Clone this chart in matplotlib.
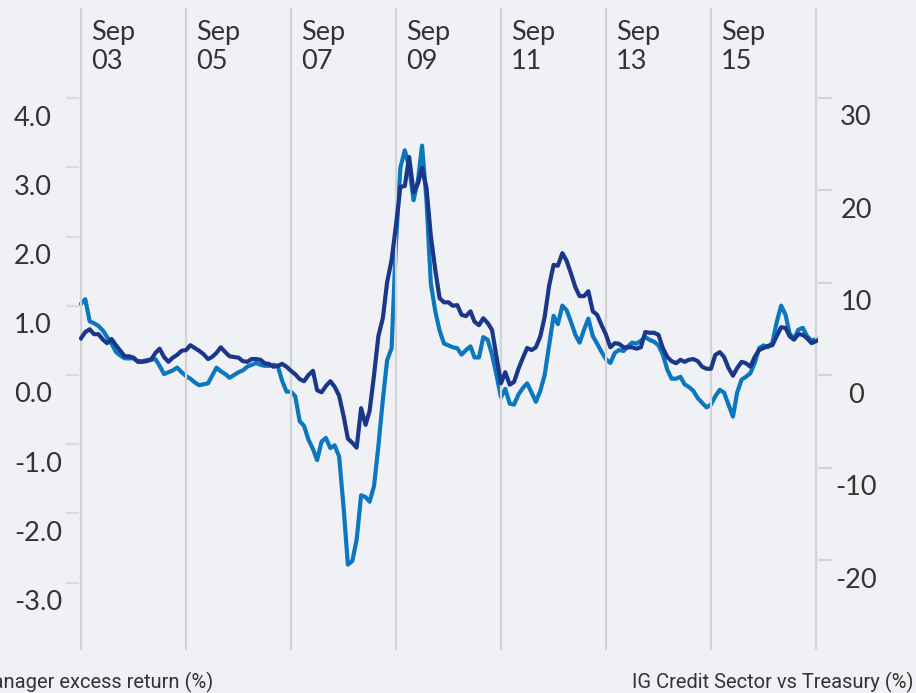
import matplotlib
matplotlib.use("Agg")
import matplotlib.pyplot as plt
import matplotlib.transforms as mtransforms
import pandas as pd

# Monthly series, Sep 2003 - Sep 2017
excess_return = [
    0.53, 0.62, 0.66, 0.59, 0.59, 0.51, 0.46, 0.52, 0.43, 0.35, 0.27, 0.27,
    0.25, 0.19, 0.19, 0.20, 0.22, 0.32, 0.38, 0.26, 0.19, 0.25, 0.29, 0.35,
    0.36, 0.43, 0.39, 0.35, 0.30, 0.23, 0.26, 0.32, 0.40, 0.33, 0.27, 0.26,
    0.25, 0.20, 0.19, 0.23, 0.23, 0.22, 0.17, 0.16, 0.12, 0.13, 0.16, 0.12,
    0.06, 0.01, -0.06, -0.09, 0.00, 0.06, -0.22, -0.25, -0.16, -0.09, -0.17, -0.30,
    -0.59, -0.92, -0.98, -1.05, -0.48, -0.72, -0.52, 0.00, 0.56, 0.82, 1.34, 1.66,
    2.17, 2.72, 2.73, 3.15, 2.64, 2.77, 2.99, 2.70, 2.01, 1.52, 1.11, 1.05,
    1.05, 1.00, 1.01, 0.87, 0.85, 0.92, 0.77, 0.72, 0.82, 0.75, 0.65, 0.26,
    -0.12, 0.04, -0.14, -0.10, 0.09, 0.25, 0.39, 0.36, 0.40, 0.56, 0.84, 1.29,
    1.59, 1.58, 1.76, 1.65, 1.46, 1.26, 1.14, 1.14, 1.21, 0.92, 0.87, 0.72,
    0.58, 0.40, 0.46, 0.45, 0.40, 0.40, 0.40, 0.38, 0.40, 0.62, 0.61, 0.61,
    0.58, 0.39, 0.26, 0.20, 0.17, 0.22, 0.19, 0.22, 0.23, 0.20, 0.12, 0.09,
    0.09, 0.29, 0.33, 0.26, 0.10, -0.01, 0.10, 0.19, 0.17, 0.12, 0.26, 0.36,
    0.39, 0.42, 0.43, 0.56, 0.69, 0.68, 0.56, 0.51, 0.59, 0.58, 0.53, 0.46,
    0.49,
]

ig_credit = [
    7.7, 8.2, 5.8, 5.6, 5.3, 4.8, 4.1, 3.4, 2.5, 2.1, 1.8, 1.8,
    1.8, 1.5, 1.5, 1.6, 1.7, 1.7, 1.0, 0.1, 0.3, 0.5, 0.8, 0.3,
    -0.1, -0.4, -0.8, -1.1, -1.0, -0.9, -0.1, 0.8, 0.4, 0.1, -0.3, 0.0,
    0.3, 0.5, 0.9, 1.1, 1.3, 1.1, 1.0, 1.0, 1.1, 1.0, -0.6, -1.8,
    -1.8, -2.3, -5.0, -5.5, -7.0, -8.0, -9.2, -7.2, -6.8, -7.9, -7.6, -8.8,
    -14.3, -20.5, -20.1, -17.8, -13.0, -13.2, -13.7, -12.0, -7.7, -2.7, 1.6, 2.9,
    14.4, 22.4, 24.3, 22.5, 18.9, 21.1, 24.8, 18.9, 9.9, 6.9, 4.8, 3.4,
    3.2, 3.0, 2.9, 2.2, 2.7, 3.1, 1.9, 1.9, 4.1, 3.8, 2.2, 0.0,
    -2.4, -1.5, -3.1, -3.2, -2.1, -1.4, -0.9, -1.9, -2.9, -1.7, 0.0, 3.2,
    6.4, 5.5, 7.5, 7.0, 5.7, 4.3, 3.5, 4.9, 6.1, 4.2, 3.4, 2.5,
    1.7, 1.3, 2.4, 2.7, 2.6, 3.1, 3.5, 3.4, 3.7, 4.1, 3.8, 3.6,
    3.2, 2.2, 0.6, -0.4, -0.4, -0.2, -1.0, -1.3, -1.7, -2.5, -3.0, -3.5,
    -3.2, -2.3, -1.6, -1.9, -3.2, -4.5, -1.9, -0.5, -0.2, 0.2, 1.3, 2.9,
    3.2, 3.0, 3.5, 5.7, 7.5, 6.5, 4.5, 3.9, 4.9, 5.1, 4.2, 3.7,
    3.9,
]

left_ticks = [4.0, 3.0, 2.0, 1.0, 0.0, -1.0, -2.0, -3.0]
right_ticks = [30, 20, 10, 0, -10, -20]
grid_years = [2003, 2005, 2007, 2009, 2011, 2013, 2015, 2017]
left_title = "Manager excess return (%)"
right_title = "IG Credit Sector vs Treasury (%)"

BG = "#eff1f4"
GRID = "#d2d3d6"
TEXT = "#333333"
NAVY = "#1b378a"
BLUE = "#0a77bf"
FONT = ["Lato", "DejaVu Sans"]
SMALL = ["Roboto", "DejaVu Sans"]

dates = pd.date_range("2003-09-01", periods=len(excess_return), freq="MS")

W, H, DPI = 916, 693, 100
fig = plt.figure(figsize=(W / DPI, H / DPI), dpi=DPI, facecolor=BG)
ax = fig.add_axes([78.8 / W, 43 / H, (818.2 - 78.8) / W, 642 / H])
ax2 = ax.twinx()
ax.set_zorder(ax2.get_zorder() + 1)
ax.patch.set_visible(False)
ax2.patch.set_visible(False)

ax2.plot(dates, ig_credit, color=BLUE, lw=3.0, solid_joinstyle="round")
ax.plot(dates, excess_return, color=NAVY, lw=3.0, solid_joinstyle="round")

half = pd.Timedelta(days=15)
ax.set_xlim(dates[0] - half, dates[-1] + half)
ax.set_ylim(-3.974, 5.303)
ax2.set_ylim(-29.73, 39.68)

for a in (ax, ax2):
    for s in a.spines.values():
        s.set_visible(False)
    a.set_xticks([])

ax.set_yticks(left_ticks)
ax.set_yticklabels([])
ax.tick_params(axis="y", length=9.5, width=1.6, color="#dadbdd", direction="out")
ax2.set_yticks(right_ticks)
ax2.set_yticklabels([])
ax2.tick_params(axis="y", length=10, width=1.6, color=GRID, direction="out")

# labels sit a little below their tick marks
down = mtransforms.ScaledTranslation(0, -20 / DPI, fig.dpi_scale_trans)
tl = mtransforms.blended_transform_factory(fig.transFigure, ax.transData) + down
for v in left_ticks:
    ax.text(14 / W, v, f"{v:.1f}", transform=tl, ha="left", va="center",
            fontsize=19.5, color=TEXT, family=FONT, clip_on=False)
tr = mtransforms.blended_transform_factory(fig.transFigure, ax2.transData) + down
for v in right_ticks:
    ax2.text(856 / W, v, f"{v}", transform=tr, ha="center", va="center",
             fontsize=19.5, color=TEXT, family=FONT, clip_on=False)

# vertical gridlines with "Sep yy" labels at the top
right_shift = mtransforms.ScaledTranslation(10 / DPI, 0, fig.dpi_scale_trans)
tx = mtransforms.blended_transform_factory(ax.transData, ax.transAxes) + right_shift
for yr in grid_years:
    d = pd.Timestamp(f"{yr}-09-01")
    ax.axvline(d, color=GRID, lw=1.6, zorder=0)
    if yr < grid_years[-1]:
        ax.text(d, 0.982, f"Sep\n{yr % 100:02d}", transform=tx, ha="left",
                va="top", fontsize=19.5, color=TEXT, family=FONT,
                linespacing=1.22)

fig.text(213 / W, 5 / H, left_title, ha="right", va="baseline",
         fontsize=14.5, color=TEXT, family=SMALL)
fig.text(913 / W, 5 / H, right_title, ha="right", va="baseline",
         fontsize=14.5, color=TEXT, family=SMALL)

fig.savefig("out.png", dpi=DPI, facecolor=BG)
